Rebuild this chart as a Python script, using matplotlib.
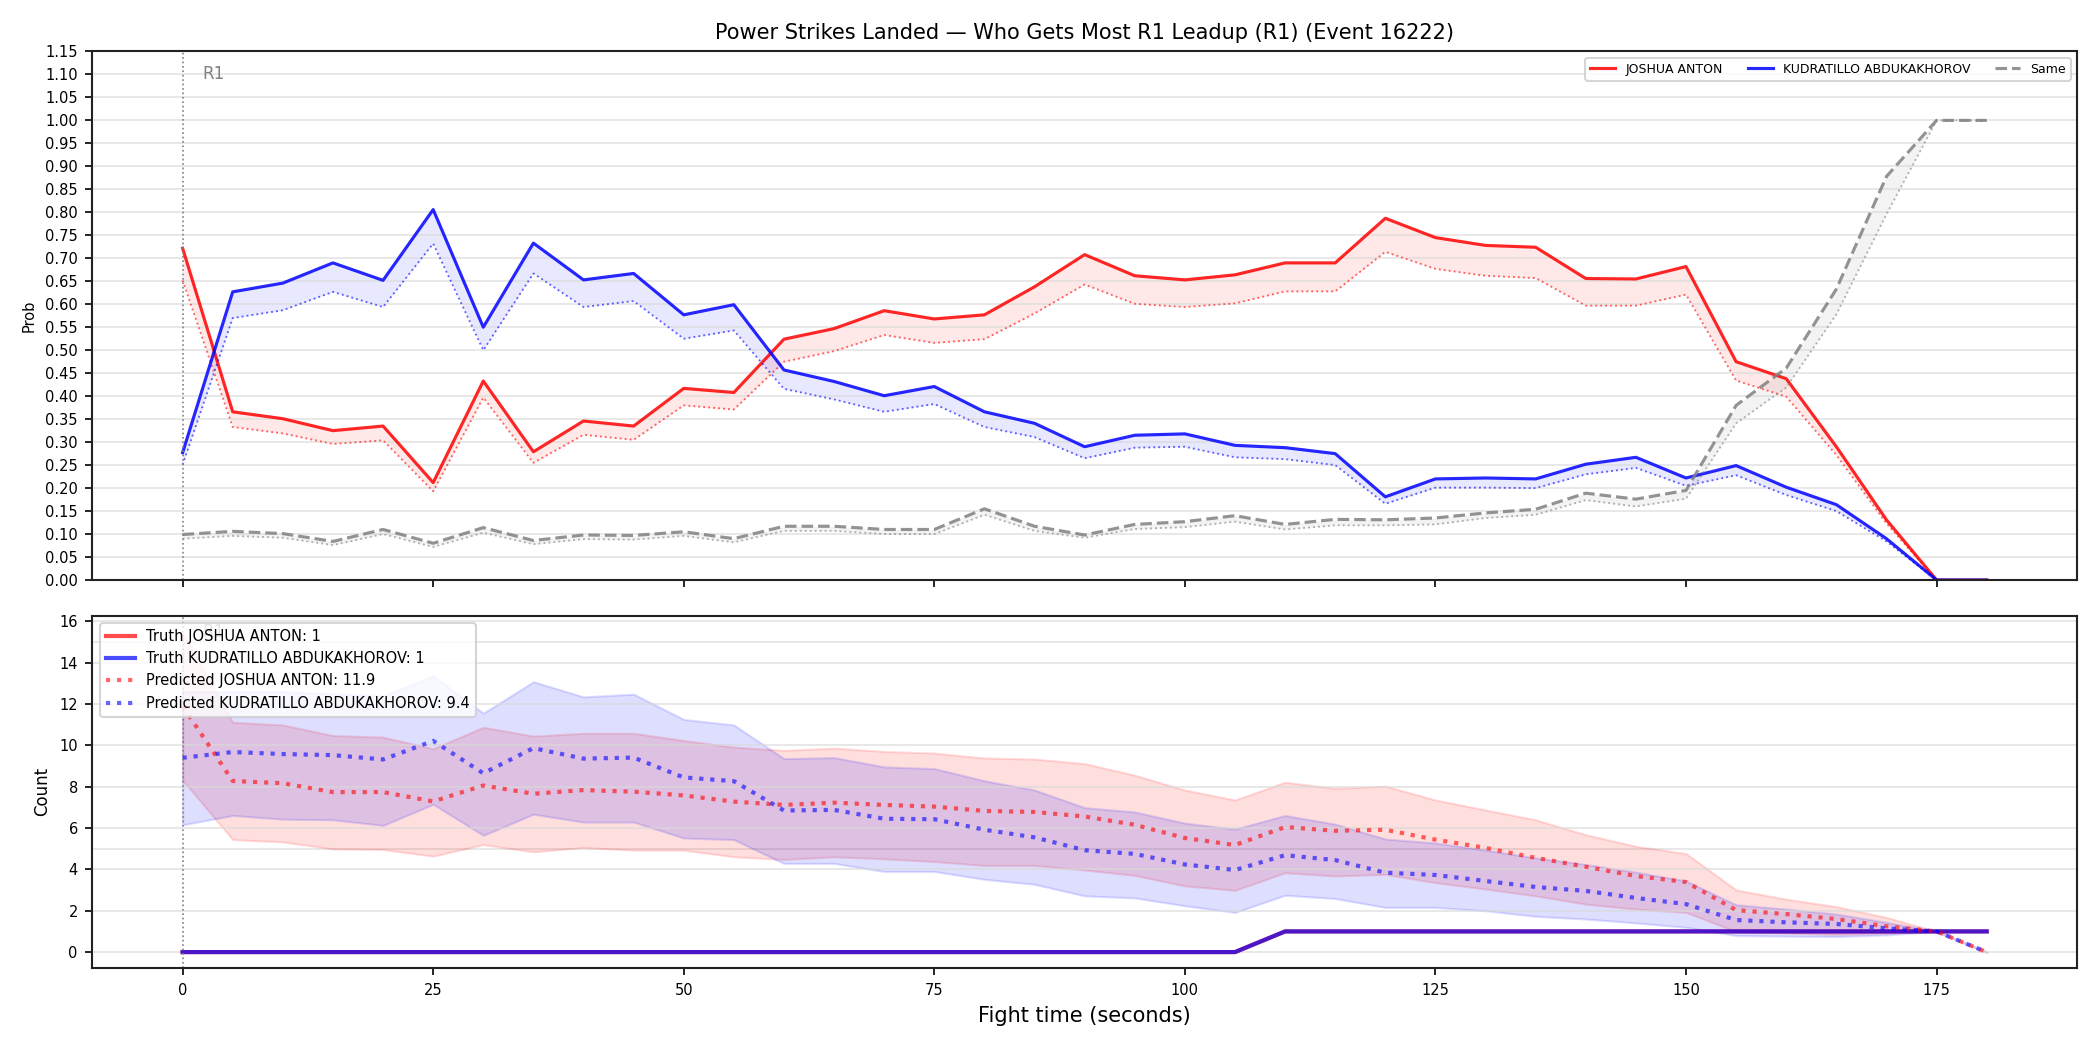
import matplotlib
matplotlib.use("Agg")
import matplotlib.pyplot as plt
import numpy as np

# temps de combat (secondes)
t = list(range(0, 185, 5))

red_name = "JOSHUA ANTON"
blue_name = "KUDRATILLO ABDUKAKHOROV"

# probabilites (panneau du haut)
p_red = [.722, .366, .351, .325, .335, .212, .433, .279, .346, .335, .417, .408, .524, .547, .586, .568, .577, .638,
         .708, .662, .653, .664, .690, .690, .787, .745, .728, .724, .656, .655, .682, .475, .438, .290, .131, 0, 0]
p_red_base = [.652, .333, .319, .296, .304, .193, .397, .255, .316, .305, .380, .371, .475, .498, .533, .516, .524, .580,
              .643, .601, .594, .602, .628, .628, .714, .677, .662, .657, .597, .597, .621, .434, .399, .272, .123, 0, 0]
p_blue = [.277, .627, .646, .690, .652, .806, .550, .733, .653, .667, .577, .599, .457, .432, .401, .421, .366, .341,
          .290, .315, .318, .293, .288, .275, .181, .220, .222, .220, .252, .267, .222, .249, .202, .164, .090, 0, 0]
p_blue_base = [.251, .570, .587, .627, .594, .732, .500, .667, .594, .607, .525, .543, .416, .393, .366, .383, .333, .311,
               .265, .288, .290, .267, .263, .250, .166, .201, .201, .200, .230, .244, .205, .228, .185, .150, .084, 0, 0]
p_same = [.099, .106, .101, .084, .110, .080, .114, .086, .098, .097, .105, .090, .117, .117, .110, .110, .155, .117,
          .098, .121, .127, .140, .121, .132, .131, .135, .146, .154, .189, .176, .195, .380, .461, .633, .878, 1.0, 1.0]
p_same_base = [.090, .096, .092, .076, .100, .072, .103, .078, .089, .088, .096, .082, .107, .107, .100, .100, .142, .107,
               .092, .111, .115, .127, .110, .119, .119, .121, .135, .142, .174, .160, .177, .341, .419, .578, .796, 1.0, 1.0]

# comptages (panneau du bas)
truth_red = [0] * 22 + [1] * 15
truth_blue = [0] * 22 + [1] * 15
pred_red = [11.9, 8.28, 8.17, 7.74, 7.74, 7.29, 8.06, 7.66, 7.84, 7.76, 7.58, 7.28, 7.12, 7.23, 7.12, 7.04, 6.83, 6.78,
            6.56, 6.16, 5.52, 5.18, 6.05, 5.87, 5.92, 5.44, 5.04, 4.56, 4.13, 3.68, 3.39, 2.03, 1.84, 1.6, 1.25, 1.0, 0.0]
pred_blue = [9.40, 9.68, 9.58, 9.53, 9.32, 10.22, 8.65, 9.87, 9.36, 9.41, 8.45, 8.27, 6.85, 6.88, 6.45, 6.43, 5.92, 5.55,
             4.93, 4.75, 4.24, 3.97, 4.69, 4.45, 3.84, 3.73, 3.44, 3.15, 2.96, 2.62, 2.32, 1.55, 1.44, 1.36, 1.15, 1.0, 0.0]
red_hi = [15.5, 11.12, 10.99, 10.48, 10.4, 9.84, 10.88, 10.45, 10.59, 10.59, 10.24, 9.92, 9.76, 9.87, 9.71, 9.63, 9.39,
          9.34, 9.12, 8.56, 7.84, 7.36, 8.22, 7.92, 8.03, 7.36, 6.88, 6.4, 5.68, 5.12, 4.77, 3.01, 2.56, 2.2, 1.68, 1.0, 0.0]
red_lo = [8.32, 5.44, 5.33, 4.99, 4.96, 4.64, 5.2, 4.85, 5.06, 4.93, 4.93, 4.61, 4.48, 4.61, 4.51, 4.38, 4.19, 4.19,
          3.97, 3.71, 3.2, 2.99, 3.84, 3.68, 3.76, 3.36, 3.05, 2.72, 2.32, 2.08, 1.92, 0.99, 0.93, 0.85, 0.93, 1.0, 0.0]
blue_hi = [12.6, 12.6, 12.6, 12.5, 12.4, 13.36, 11.56, 13.08, 12.35, 12.48, 11.26, 10.99, 9.36, 9.41, 8.96, 8.88, 8.29,
           7.84, 6.99, 6.78, 6.24, 5.95, 6.61, 6.19, 5.47, 5.28, 4.93, 4.56, 4.24, 3.87, 3.44, 2.29, 2.08, 1.84, 1.44, 1.0, 0.0]
blue_lo = [6.16, 6.61, 6.43, 6.4, 6.13, 7.15, 5.65, 6.67, 6.29, 6.29, 5.52, 5.44, 4.29, 4.29, 3.9, 3.9, 3.52, 3.28,
           2.72, 2.62, 2.24, 1.92, 2.75, 2.59, 2.16, 2.16, 2.0, 1.73, 1.6, 1.41, 1.2, 0.8, 0.77, 0.75, 0.83, 1.0, 0.0]

fig, (ax1, ax2) = plt.subplots(2, 1, figsize=(14, 7), dpi=150, sharex=True,
                               gridspec_kw={"height_ratios": [3, 2]})
fig.subplots_adjust(left=0.044, right=0.989, top=0.951, bottom=0.078, hspace=0.081)

# --- panneau du haut : probabilites
ax1.plot(t, p_red, color="red", alpha=0.85, lw=1.5, label=red_name)
ax1.plot(t, p_red_base, color="red", alpha=0.6, lw=0.9, ls=":")
ax1.fill_between(t, p_red_base, p_red, color="red", alpha=0.09, lw=0)
ax1.plot(t, p_blue, color="blue", alpha=0.85, lw=1.5, label=blue_name)
ax1.plot(t, p_blue_base, color="blue", alpha=0.6, lw=0.9, ls=":")
ax1.fill_between(t, p_blue_base, p_blue, color="blue", alpha=0.09, lw=0)
ax1.plot(t, p_same, color="gray", alpha=0.85, lw=1.5, ls="--", label="Same")
ax1.plot(t, p_same_base, color="gray", alpha=0.6, lw=0.9, ls=":")
ax1.fill_between(t, p_same_base, p_same, color="gray", alpha=0.09, lw=0)

ax1.set_ylim(0, 1.15)
ax1.set_yticks(np.arange(0, 1.151, 0.05))
ax1.yaxis.set_major_formatter(matplotlib.ticker.FormatStrFormatter("%.2f"))
ax1.set_ylabel("Prob", fontsize=7)
ax1.tick_params(labelsize=7)
ax1.grid(axis="y", color="#d9d9d9", alpha=0.7, lw=0.8)
ax1.axvline(0, color="gray", ls=":", lw=0.8)
ax1.text(2, 1.1, "R1", color="gray", fontsize=8, va="center")
ax1.legend(loc="upper right", ncol=3, fontsize=6)
ax1.set_title("Power Strikes Landed — Who Gets Most R1 Leadup (R1) (Event 16222)", fontsize=10)

# --- panneau du bas : comptages
ax2.fill_between(t, red_lo, red_hi, color="red", alpha=0.13)
ax2.fill_between(t, blue_lo, blue_hi, color="blue", alpha=0.13)
ax2.plot(t, truth_red, color="red", alpha=0.7, lw=2, label=f"Truth {red_name}: {truth_red[-1]}")
ax2.plot(t, truth_blue, color="blue", alpha=0.7, lw=2, label=f"Truth {blue_name}: {truth_blue[-1]}")
ax2.plot(t, pred_red, color="red", alpha=0.6, lw=2, ls=":", label=f"Predicted {red_name}: {pred_red[0]}")
ax2.plot(t, pred_blue, color="blue", alpha=0.6, lw=2, ls=":", label=f"Predicted {blue_name}: {pred_blue[0]}")
ax2.axvline(0, color="gray", ls=":", lw=0.8)
ax2.text(2, 15.5, "R1", color="gray", fontsize=8, va="center")
for yl in [5, 15]:
    ax2.axhline(yl, color="#d9d9d9", alpha=0.7, lw=0.8, zorder=0)
ax2.set_yticks(range(0, 17, 2))
ax2.grid(axis="y", color="#d9d9d9", alpha=0.7, lw=0.8)
ax2.tick_params(labelsize=7)
ax2.set_ylabel("Count", fontsize=8)
ax2.set_xlabel("Fight time (seconds)", fontsize=10)
ax2.set_xticks([0, 25, 50, 75, 100, 125, 150, 175])
ax2.legend(loc="upper left", fontsize=7)

for ax in (ax1, ax2):
    for s in ax.spines.values():
        s.set_linewidth(1.0)
        s.set_color("#222222")

plt.savefig("out.png", dpi=150)
